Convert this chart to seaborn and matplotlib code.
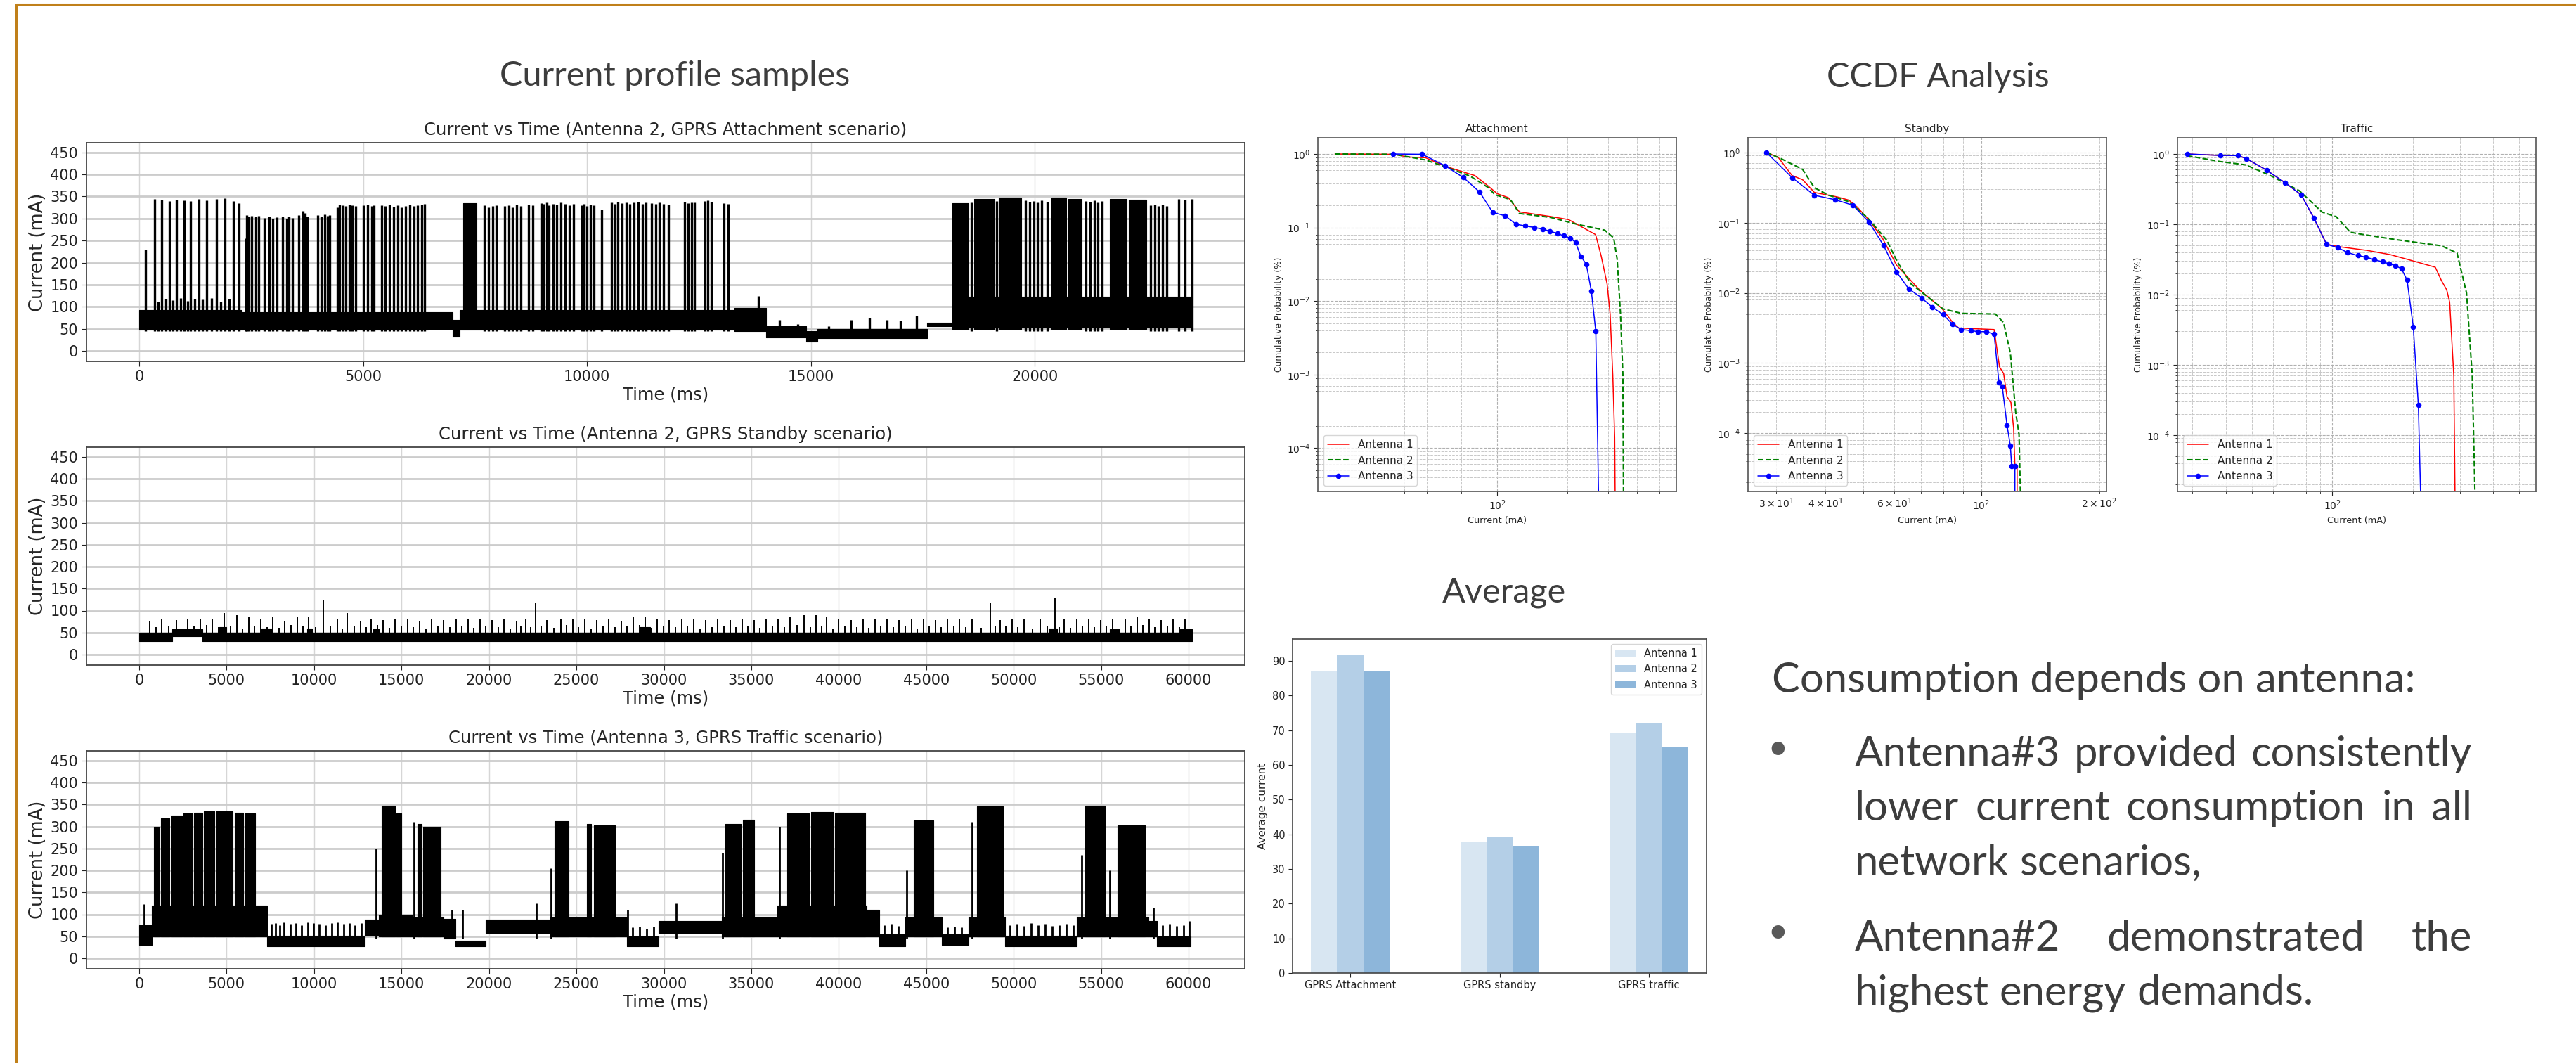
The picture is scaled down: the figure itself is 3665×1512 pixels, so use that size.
import numpy as np
import pandas as pd
import matplotlib.pyplot as plt
import seaborn as sns
from matplotlib.lines import Line2D

sns.set_style("white")
plt.rcParams['font.family'] = ['DejaVu Sans']

W, H = 3665, 1512

# ---------------- time series: Antenna 2, GPRS Attachment ----------------
# base noise band (t0, t1, low, high), solid bursts (t0, t1, top), single spikes
att_band = [(0, 2300, 47, 92), (2300, 6450, 48, 88), (6450, 7000, 50, 88), (7000, 7150, 32, 70),
            (7150, 13300, 48, 92), (13300, 14000, 45, 98), (14000, 14900, 30, 56), (14900, 15150, 20, 45),
            (15150, 17600, 28, 50), (17600, 18150, 56, 64), (18150, 23510, 52, 122)]
att_blocks = [(7230, 7530, 335), (18150, 18520, 335), (18650, 19100, 345), (19200, 19700, 348),
              (20370, 20700, 348), (20750, 21050, 345), (21680, 22050, 345), (22100, 22490, 343)]
att_spike_t = [144, 340, 500, 670, 830, 1010, 1150, 1330, 1510, 1730, 1910, 2110, 2230,
               420, 590, 750, 920, 1080, 1240, 1420, 1620, 1820, 2010,
               2380, 2400, 2450, 2520, 2600, 2670, 2790, 2900, 2990, 3080, 3210, 3300, 3350, 3420,
               3570, 3660, 3710, 3750, 3980, 4070, 4150, 4200, 4250, 4430, 4470, 4560, 4610, 4690,
               4760, 4830, 5010, 5100, 5190, 5240, 5410, 5500, 5590, 5680, 5770, 5860, 5950, 6040,
               6130, 6220, 6310, 6380,
               7710, 7800, 7890, 7980, 8160, 8250, 8340, 8430, 8520, 8700, 8790, 8970, 9030, 9100,
               9150, 9240, 9330, 9420, 9510, 9600, 9700, 9880, 9930, 10000, 10070, 10150, 10330,
               10540, 10630, 10690, 10780, 10870, 10960, 11050, 11140, 11230, 11320, 11440, 11530,
               11620, 11710, 11820, 12180, 12250, 12330, 12400, 12630, 12700, 12780, 13050, 13150,
               13820, 14300, 14700, 15400, 15900, 16300, 16700, 17000, 17350,
               18580, 19150, 19790, 19880, 19970, 20060, 20150, 20270, 21140, 21230, 21320, 21410,
               21500, 22580, 22670, 22760, 22850, 22940, 23210, 23350, 23510]
att_spike_v = [230, 345, 343, 340, 343, 342, 340, 345, 342, 345, 346, 340, 335,
               112, 118, 115, 120, 113, 118, 116, 120, 112, 118,
               255, 308, 305, 306, 304, 306, 302, 305, 300, 303, 305, 300, 304, 302,
               308, 318, 312, 305, 308, 305, 310, 306, 308, 325, 332, 330, 328, 331,
               330, 329, 330, 332, 328, 330, 330, 328, 331, 327, 330, 326, 329, 331,
               328, 330, 332, 333,
               330, 325, 328, 330, 328, 330, 326, 331, 329, 332, 330, 335, 333, 336,
               330, 334, 332, 336, 333, 330, 334, 330, 333, 328, 331, 330, 320,
               336, 334, 338, 335, 337, 333, 336, 338, 334, 336, 335, 333,
               336, 334, 332, 338, 335, 337, 336, 340, 342, 338, 335, 334,
               125, 70, 60, 55, 70, 75, 70, 68, 80,
               336, 340, 342, 338, 340, 336, 341, 338, 340, 338, 342, 336,
               340, 330, 332, 328, 331, 329, 345, 343, 345]

# ---------------- time series: Antenna 2, GPRS Standby ----------------
stb_band = [(0, 1900, 31, 50), (1900, 3600, 42, 58), (3600, 60200, 31, 50), (4600, 5000, 36, 62),
            (7000, 7600, 36, 60), (9600, 9900, 36, 60), (13400, 13700, 36, 58), (28600, 29200, 38, 63),
            (52000, 52500, 38, 60), (55500, 56000, 38, 58), (59500, 60200, 36, 58)]
stb_blocks = []
stb_spike_t = [600, 1290, 2120, 2765, 3500, 4190, 4885, 5575, 6270, 6960, 7650, 8340, 9030, 9680,
               10550, 11340, 11890, 12670, 13270, 13960, 14650, 15345, 16035, 16730, 17420, 18110,
               18800, 19490, 20180, 20875, 21565, 22120, 22670, 23315, 24100, 24790, 25480, 26175,
               26865, 27555, 28250, 28940, 29630, 30320, 31010, 31700, 32395, 33085, 33780, 34470,
               35160, 35850, 36540, 37230, 38020, 38710, 39310, 40000, 40690, 41380, 42070, 42760,
               43450, 44145, 44835, 45530, 46220, 46910, 47600, 48660, 49210, 49900, 50600, 51520,
               52350, 52900, 53590, 54280, 54970, 55660, 56360, 57050, 57740, 58430, 59120, 59810,
               950, 1700, 2440, 3130, 3850, 4540, 5230, 5920, 6610, 7300, 8000, 8690, 9350, 10100,
               10950, 11600, 12280, 12970, 13610, 14300, 15000, 15690, 16380, 17070, 17760, 18450,
               19140, 19830, 20530, 21220, 21840, 22400, 23000, 23700, 24450, 25130, 25830, 26520,
               27210, 27900, 28600, 29280, 29970, 30660, 31350, 32050, 32740, 33430, 34120, 34810,
               35500, 36190, 36880, 37620, 38360, 39010, 39650, 40340, 41030, 41720, 42410, 43100,
               43800, 44490, 45180, 45870, 46560, 47250, 48130, 48930, 49550, 50250, 51060, 51930,
               52620, 53240, 53930, 54620, 55310, 56010, 56700, 57390, 58080, 58770, 59460]
stb_spike_v = [75, 80, 78, 80, 82, 80, 95, 90, 85, 80, 85, 75, 85, 85,
               125, 80, 95, 75, 80, 78, 82, 80, 76, 80, 78, 80,
               80, 82, 78, 80, 75, 80, 118, 78, 80, 82, 80, 78,
               80, 76, 85, 85, 80, 78, 80, 82, 78, 80, 78, 80,
               78, 80, 80, 85, 90, 90, 85, 80, 78, 80, 82, 80,
               78, 80, 82, 78, 80, 80, 82, 118, 78, 80, 80, 80,
               128, 80, 82, 80, 78, 80, 80, 85, 80, 78, 80, 80,
               62, 66, 60, 64, 68, 62, 65, 60, 66, 63, 61, 67, 64, 62,
               66, 60, 64, 62, 67, 61, 65, 63, 60, 66, 62, 64,
               61, 65, 63, 60, 66, 62, 64, 61, 67, 63, 60, 65,
               62, 66, 68, 61, 64, 62, 65, 60, 63, 66, 62, 64,
               61, 65, 63, 67, 62, 64, 60, 66, 63, 61, 65, 62,
               64, 60, 66, 62, 65, 63, 61, 64, 66, 62, 60, 65,
               63, 61, 66, 62, 64, 60, 65, 67, 62, 64, 63]

# ---------------- time series: Antenna 3, GPRS Traffic ----------------
trf_band = [(0, 740, 30, 75), (740, 7300, 50, 120), (7300, 12900, 28, 52), (12900, 13700, 52, 88),
            (13700, 15600, 50, 100), (15600, 17400, 50, 95), (17400, 18100, 45, 90), (18100, 19800, 28, 40),
            (19800, 23500, 58, 88), (23500, 27900, 50, 95), (27900, 29700, 28, 50), (29700, 33300, 58, 85),
            (33300, 36500, 50, 95), (36500, 41600, 50, 120), (41600, 42300, 50, 110), (42300, 43800, 28, 55),
            (43800, 45900, 50, 95), (45900, 47400, 30, 55), (47400, 49500, 50, 95), (49500, 53600, 28, 52),
            (53600, 57700, 50, 95), (57700, 58200, 50, 85), (58200, 60100, 28, 50)]
trf_blocks = [(830, 1150, 300), (1250, 1750, 318), (1850, 2450, 325), (2550, 3050, 330), (3150, 3600, 332),
              (3700, 4300, 335), (4400, 5350, 334), (5450, 5950, 332), (6050, 6650, 330),
              (13850, 14650, 348), (14700, 15000, 330), (15900, 16150, 305), (16250, 17250, 300),
              (23750, 24550, 312), (25600, 25850, 305), (26000, 27200, 302), (33500, 34400, 305),
              (34500, 35150, 315), (37000, 38300, 330), (38400, 39700, 333), (39800, 41500, 332),
              (44300, 45400, 314), (47900, 49400, 345), (54100, 55200, 348), (55950, 57500, 303)]
trf_spike_t = [280, 13550, 15700, 17900, 18500, 22700, 23550, 27950, 30690, 33350, 36600, 43900,
               47600, 53900, 55500, 58000,
               7550, 7800, 8050, 8300, 8650, 8950, 9300, 9650, 9950, 10300, 10650, 11000, 11350,
               11700, 12000, 12350, 12700, 28200, 28600, 29000, 29400, 42600, 43000, 43400,
               46200, 46600, 47000, 49800, 50200, 50600, 51000, 51400, 51800, 52200, 52600, 53000,
               53400, 58500, 58900, 59300, 59700, 60050]
trf_spike_v = [123, 250, 310, 110, 110, 125, 205, 110, 125, 240, 300, 200,
               310, 235, 200, 115,
               78, 80, 75, 82, 78, 80, 76, 82, 80, 78, 75, 80, 82,
               78, 80, 76, 80, 70, 72, 68, 72, 75, 78, 74,
               70, 72, 70, 75, 78, 74, 80, 76, 78, 74, 76, 78,
               75, 75, 78, 74, 76, 85]

# ---------------- CCDF curves ----------------
att_x1 = [20.1, 36.1, 41.2, 49.2, 60.0, 70.2, 80.1, 91.5, 100, 111.7, 124.8, 170.2, 203, 232, 265, 280, 297, 306, 314, 320, 324]
att_p1 = [1.0, 0.99, 0.909, 0.89, 0.68, 0.58, 0.51, 0.367, 0.289, 0.255, 0.163, 0.141, 0.128, 0.101, 0.080, 0.041, 0.017, 0.0066, 0.00099, 1.4e-4, 1e-6]
att_x2 = [20.1, 36.1, 49.2, 61.4, 76.6, 91.5, 97.8, 114, 124.8, 170.2, 222, 290, 317, 328, 339, 347, 351]
att_p2 = [1.0, 0.99, 0.83, 0.65, 0.50, 0.35, 0.28, 0.24, 0.155, 0.137, 0.11, 0.092, 0.072, 0.037, 0.0066, 0.001, 1e-6]
att_x3 = [35.6, 47.6, 59.6, 71.6, 84.1, 95.7, 108.3, 120.5, 132.2, 144.5, 157.3, 168.8, 181.2, 193.6, 206, 217.4, 229, 241.7, 253.9, 265.4, 277.5]
att_p3 = [1.0, 0.99, 0.695, 0.479, 0.303, 0.161, 0.144, 0.111, 0.105, 0.100, 0.095, 0.089, 0.083, 0.077, 0.072, 0.0625, 0.0405, 0.0316, 0.0138, 0.0039, 1e-6]

stb_x1 = [28.3, 30.3, 32.9, 35.0, 37.5, 42.9, 45.9, 48.3, 51.6, 55.9, 60.9, 69.5, 79.1, 84.8, 87.6, 107.8, 111.3, 114, 116.3, 119, 120.9, 121.8, 123.4, 123.4]
stb_p1 = [1.0, 0.86, 0.47, 0.41, 0.27, 0.233, 0.21, 0.166, 0.11, 0.0606, 0.0245, 0.0111, 0.0061, 0.0037, 0.00315, 0.0030, 8.8e-4, 7.1e-4, 3.3e-4, 2.74e-4, 1.18e-4, 3.4e-5, 3.4e-5, 1e-6]
stb_x2 = [28.3, 30.8, 35.0, 37.5, 40.8, 45.9, 51.3, 57.3, 61, 66.1, 72.7, 79.9, 89.1, 108.6, 114, 118.6, 122.4, 124.8, 127.2]
stb_p2 = [1.0, 0.82, 0.575, 0.315, 0.246, 0.20, 0.117, 0.057, 0.028, 0.0135, 0.0089, 0.0059, 0.0051, 0.0050, 0.00376, 0.00139, 1.96e-4, 9.6e-5, 1e-6]
stb_x3 = [28.3, 32.9, 37.5, 42.3, 47.0, 51.7, 56.3, 60.8, 65.3, 70.4, 74.8, 79.9, 84.3, 88.9, 94, 98, 103, 107.8, 110.9, 113.1, 116.3, 118.6, 119.5, 121.8, 121.8]
stb_p3 = [1.0, 0.44, 0.246, 0.213, 0.178, 0.102, 0.0475, 0.0198, 0.0114, 0.0085, 0.0063, 0.0049, 0.0036, 0.0030, 0.0029, 0.0028, 0.0028, 0.00258, 5.3e-4, 4.6e-4, 1.3e-4, 6.6e-5, 3.4e-5, 3.4e-5, 1e-6]

trf_x1 = [28.7, 38.1, 44.5, 47.9, 56.8, 66.7, 76.6, 85.5, 95.3, 106, 135, 165, 200, 243, 256, 268, 275, 285, 290]
trf_p1 = [1.0, 0.955, 0.95, 0.855, 0.59, 0.39, 0.262, 0.122, 0.052, 0.048, 0.0425, 0.037, 0.0302, 0.0245, 0.0159, 0.0117, 0.0078, 7.0e-4, 1e-6]
trf_x2 = [28.7, 38.1, 47.5, 59, 75.4, 91.7, 103.6, 117, 129, 173, 256, 293, 318, 334, 347.5]
trf_p2 = [0.946, 0.78, 0.70, 0.49, 0.30, 0.149, 0.128, 0.077, 0.072, 0.0605, 0.0495, 0.039, 0.0105, 7.0e-4, 1e-6]
trf_x3 = [28.7, 38.1, 44.5, 47.9, 56.8, 66.7, 76.6, 85.5, 95.3, 105, 114.2, 124.8, 134, 144, 154.4, 163, 172, 181.6, 190.6, 201, 210, 218]
trf_p3 = [1.0, 0.955, 0.95, 0.855, 0.59, 0.39, 0.262, 0.122, 0.052, 0.0465, 0.0396, 0.0359, 0.0341, 0.0313, 0.0292, 0.0275, 0.0259, 0.0233, 0.0161, 0.0035, 2.7e-4, 1e-6]

# ---------------- average bars ----------------
scenarios = ['GPRS Attachment', 'GPRS standby', 'GPRS traffic']
antennas = ['Antenna 1', 'Antenna 2', 'Antenna 3']
avg_ant1 = [87.2, 37.9, 69.2]
avg_ant2 = [91.7, 39.2, 72.2]
avg_ant3 = [87.0, 36.4, 65.0]
bar_colors = ['#d8e6f2', '#b4cfe7', '#8db6da']

TXT = '#3d3d3d'
fig = plt.figure(figsize=(W / 100, H / 100), dpi=100)


def rect(x0, y0, x1, y1):
    return [x0 / W, 1 - y1 / H, (x1 - x0) / W, (y1 - y0) / H]


def draw_ts(ax, band, blocks, sp_t, sp_v, tmax, title, spike_lw):
    for t0, t1, lo, hi in band:
        ax.fill_between([t0, t1], lo, hi, color='black', lw=0.8)
    for t0, t1, top in blocks:
        ax.fill_between([t0, t1], 50, top, color='black', lw=0.8)
    ax.vlines(sp_t, 45, sp_v, color='black', lw=spike_lw)
    ax.set_xlim(-0.05 * tmax, 1.05 * tmax)
    ax.set_ylim(-24, 472)
    ax.set_yticks(range(0, 451, 50))
    ax.yaxis.grid(True, color='#cccccc', lw=2.0)
    ax.xaxis.grid(True, color='#d6d6d6', lw=1.0)
    ax.set_axisbelow(True)
    ax.tick_params(labelsize=15, length=5, left=True, bottom=True, colors='#222222')
    ax.set_title(title, fontsize=17.5, pad=8)
    ax.set_xlabel('Time (ms)', fontsize=17.5, labelpad=3)
    ax.set_ylabel('Current (mA)', fontsize=18.5, labelpad=3)
    for s in ax.spines.values():
        s.set_color('#444444')
        s.set_linewidth(1.3)


ax1 = fig.add_axes(rect(123, 203, 1771, 514))
draw_ts(ax1, att_band, att_blocks, att_spike_t, att_spike_v, 23510,
        'Current vs Time (Antenna 2, GPRS Attachment scenario)', 2.4)
ax2 = fig.add_axes(rect(123, 636, 1771, 946))
draw_ts(ax2, stb_band, stb_blocks, stb_spike_t, stb_spike_v, 60200,
        'Current vs Time (Antenna 2, GPRS Standby scenario)', 1.4)
ax2.set_xticks(range(0, 60001, 5000))
ax3 = fig.add_axes(rect(123, 1068, 1771, 1378))
draw_ts(ax3, trf_band, trf_blocks, trf_spike_t, trf_spike_v, 60200,
        'Current vs Time (Antenna 3, GPRS Traffic scenario)', 2.0)
ax3.set_xticks(range(0, 60001, 5000))


def draw_ccdf(ax, curves, xlim, ylim, title):
    (x1, p1), (x2, p2), (x3, p3) = curves
    sns.lineplot(x=x1, y=p1, ax=ax, color='red', lw=1.1, estimator=None, sort=False, label='Antenna 1')
    sns.lineplot(x=x2, y=p2, ax=ax, color='green', lw=1.5, ls='--', estimator=None, sort=False, label='Antenna 2')
    sns.lineplot(x=x3, y=p3, ax=ax, color='blue', lw=1.1, marker='o', markersize=5.5, markeredgewidth=0,
                 markevery=list(range(len(x3) - 1)), estimator=None, sort=False, label='Antenna 3')
    ax.set_xscale('log')
    ax.set_yscale('log')
    ax.set_xlim(*xlim)
    ax.set_ylim(*ylim)
    ax.grid(True, which='major', ls='--', color='#b0b0b0', lw=0.8)
    ax.grid(True, which='minor', ls='--', color='#c8c8c8', lw=0.7)
    ax.tick_params(which='both', labelsize=10, colors='#222222')
    ax.tick_params(which='major', length=4, left=True, bottom=True)
    ax.tick_params(which='minor', length=2, left=True, bottom=True)
    ax.set_title(title, fontsize=11, pad=6)
    ax.set_xlabel('Current (mA)', fontsize=9.3)
    ax.set_ylabel('Cumulative Probability (%)', fontsize=8.8)
    ax.legend(loc='lower left', fontsize=11, fancybox=True, framealpha=0.8)
    for s in ax.spines.values():
        s.set_color('#555555')
        s.set_linewidth(1.2)


axa = fig.add_axes(rect(1875, 196, 2385, 699))
draw_ccdf(axa, [(att_x1, att_p1), (att_x2, att_p2), (att_x3, att_p3)],
          (16.97, 589), (2.57e-5, 1.66), 'Attachment')
axs = fig.add_axes(rect(2487, 196, 2997, 699))
draw_ccdf(axs, [(stb_x1, stb_p1), (stb_x2, stb_p2), (stb_x3, stb_p3)],
          (25.4, 208.6), (1.48e-5, 1.62), 'Standby')
axt = fig.add_axes(rect(3098, 196, 3608, 699))
draw_ccdf(axt, [(trf_x1, trf_p1), (trf_x2, trf_p2), (trf_x3, trf_p3)],
          (26.4, 578), (1.58e-5, 1.70), 'Traffic')

# average current bars
bar_df = pd.DataFrame({
    'scenario': scenarios * 3,
    'antenna': [a for a in antennas for _ in scenarios],
    'current': avg_ant1 + avg_ant2 + avg_ant3,
})
axb = fig.add_axes(rect(1839, 909, 2428, 1384))
sns.barplot(data=bar_df, x='scenario', y='current', hue='antenna', palette=bar_colors,
            width=0.525, saturation=1, errorbar=None, linewidth=0, ax=axb)
axb.set_xlim(-0.386, 2.386)
axb.set_ylim(0, 96.3)
axb.set_yticks(range(0, 91, 10))
axb.set_xlabel('')
axb.set_ylabel('Average current', fontsize=11)
axb.tick_params(labelsize=10.5, length=4, left=True, bottom=True, colors='#222222')
axb.legend(loc='upper right', fontsize=10.5, fancybox=True, framealpha=0.8)
for s in axb.spines.values():
    s.set_color('#444444')
    s.set_linewidth(1.2)

# slide texts
slide = dict(family=['Lato', 'DejaVu Sans'], color=TXT)
fig.text(960 / W, 1 - 122 / H, 'Current profile samples', ha='center', va='baseline', fontsize=35, **slide)
fig.text(2757 / W, 1 - 124 / H, 'CCDF Analysis', ha='center', va='baseline', fontsize=35, **slide)
fig.text(2140 / W, 1 - 857 / H, 'Average', ha='center', va='baseline', fontsize=35, **slide)
fig.text(2521 / W, 1 - 985 / H, 'Consumption depends on antenna:', ha='left', va='baseline', fontsize=43, **slide)

for yb in [1071, 1332]:
    fig.text(2529 / W, 1 - yb / H, '\u2022', ha='center', va='center', fontsize=46,
             family=['DejaVu Sans'], color='#595959')

renderer = fig.canvas.get_renderer()


def justified(words, x0, x1, yb, spread=True):
    texts = [fig.text(0, 0, w, ha='left', va='baseline', fontsize=43, **slide) for w in words]
    widths = [t.get_window_extent(renderer).width for t in texts]
    space = texts[0].get_fontsize() * 100 / 72 * 0.25
    gap = (x1 - x0 - sum(widths)) / (len(words) - 1) if spread else space
    x = x0
    for t, w in zip(texts, widths):
        t.set_position((x / W, 1 - yb / H))
        x += w + gap


justified(['Antenna#3', 'provided', 'consistently'], 2639, 3517, 1090)
justified(['lower', 'current', 'consumption', 'in', 'all'], 2639, 3517, 1167)
justified(['network', 'scenarios,'], 2639, 3517, 1245, spread=False)
justified(['Antenna#2', 'demonstrated', 'the'], 2639, 3517, 1352)
justified(['highest', 'energy', 'demands.'], 2639, 3517, 1429, spread=False)

# orange slide frame (top and left edges visible)
frame_col = '#c0801a'
fig.add_artist(Line2D([23 / W, 23 / W], [0, 1 - 6 / H], color=frame_col, lw=2.2))
fig.add_artist(Line2D([23 / W, 1], [1 - 6 / H, 1 - 6 / H], color=frame_col, lw=2.2))

fig.savefig('out.png', dpi=100)
